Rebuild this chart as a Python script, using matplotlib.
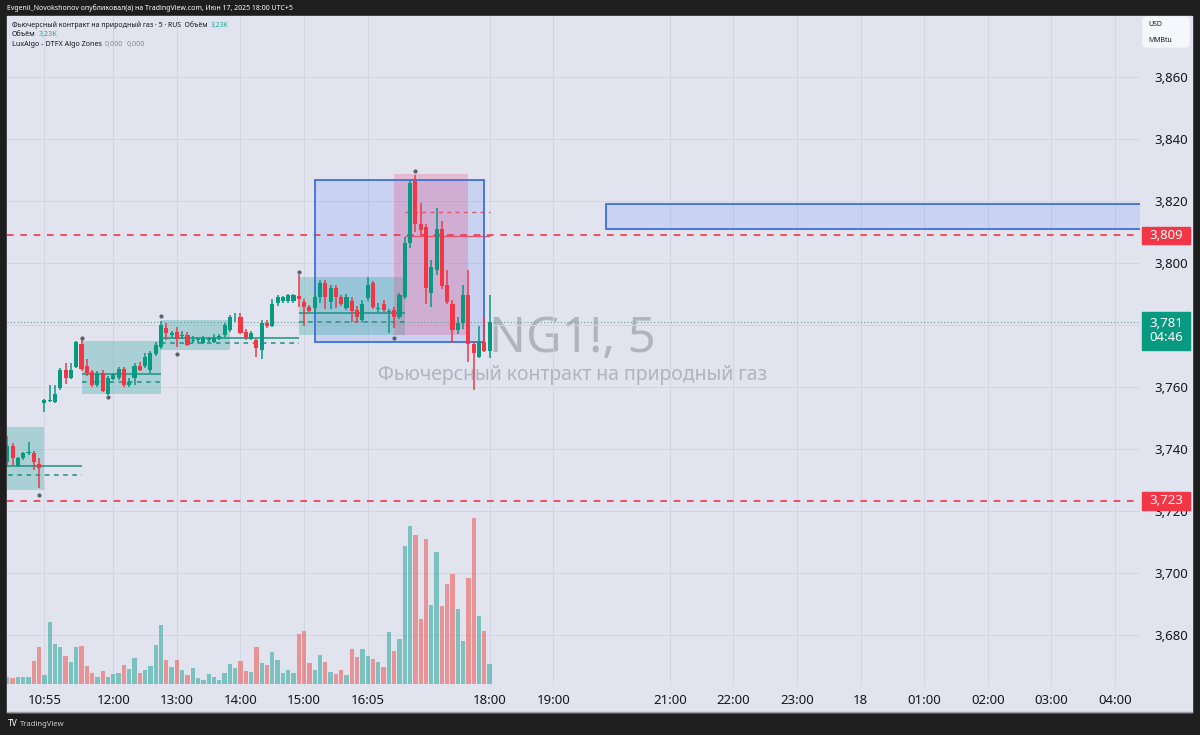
import matplotlib.pyplot as plt
from matplotlib.patches import Rectangle, FancyBboxPatch

plt.rcParams['font.family'] = ['Noto Sans', 'DejaVu Sans']

# 5-minute candles NG1! (bar index 0 .. 91)
opens = [3.7357, 3.7409, 3.7344, 3.7369, 3.7386, 3.7387, 3.7350, 3.7548, 3.7555, 3.7552,
         3.7597, 3.7654, 3.7627, 3.7664, 3.7738, 3.7667, 3.7648, 3.7605, 3.7645, 3.7576,
         3.7626, 3.7627, 3.7657, 3.7605, 3.7627, 3.7668, 3.7668, 3.7654, 3.7705, 3.7727,
         3.7788, 3.7768, 3.7778, 3.7763, 3.7767, 3.7748, 3.7750, 3.7742, 3.7752, 3.7745,
         3.7758, 3.7767, 3.7783, 3.7820, 3.7826, 3.7778, 3.7755, 3.7751, 3.7718, 3.7806,
         3.7796, 3.7871, 3.7875, 3.7875, 3.7875, 3.7893, 3.7874, 3.7856, 3.7855, 3.7888,
         3.7935, 3.7874, 3.7917, 3.7888, 3.7853, 3.7877, 3.7848, 3.7815, 3.7885, 3.7935,
         3.7850, 3.7867, 3.7842, 3.7848, 3.7826, 3.7888, 3.8065, 3.8265, 3.8125, 3.8116,
         3.7903, 3.7976, 3.8108, 3.7928, 3.7867, 3.7783, 3.7805, 3.7896, 3.7738, 3.7695,
         3.7745, 3.7716]
highs = [3.7440, 3.7419, 3.7374, 3.7390, 3.7420, 3.7394, 3.7369, 3.7560, 3.7605, 3.7605,
         3.7660, 3.7677, 3.7677, 3.7748, 3.7756, 3.7690, 3.7653, 3.7650, 3.7654, 3.7635,
         3.7645, 3.7665, 3.7665, 3.7627, 3.7675, 3.7680, 3.7710, 3.7715, 3.7745, 3.7813,
         3.7806, 3.7780, 3.7794, 3.7780, 3.7775, 3.7765, 3.7760, 3.7765, 3.7760, 3.7770,
         3.7770, 3.7805, 3.7830, 3.7838, 3.7838, 3.7785, 3.7780, 3.7755, 3.7815, 3.7815,
         3.7882, 3.7895, 3.7893, 3.7898, 3.7900, 3.7960, 3.7884, 3.7862, 3.7900, 3.7945,
         3.7945, 3.7927, 3.7927, 3.7895, 3.7900, 3.7890, 3.7860, 3.7880, 3.7955, 3.7942,
         3.7870, 3.7880, 3.7850, 3.7857, 3.7901, 3.8083, 3.8268, 3.8282, 3.8192, 3.8126,
         3.8009, 3.8175, 3.8136, 3.7977, 3.7880, 3.7825, 3.7929, 3.7976, 3.7745, 3.7797,
         3.7822, 3.7896]
lows = [3.7340, 3.7348, 3.7342, 3.7364, 3.7380, 3.7331, 3.7272, 3.7519, 3.7552, 3.7547,
        3.7590, 3.7609, 3.7624, 3.7660, 3.7650, 3.7636, 3.7600, 3.7600, 3.7583, 3.7573,
        3.7622, 3.7620, 3.7598, 3.7600, 3.7605, 3.7650, 3.7660, 3.7645, 3.7700, 3.7720,
        3.7750, 3.7760, 3.7728, 3.7755, 3.7730, 3.7740, 3.7742, 3.7738, 3.7745, 3.7740,
        3.7752, 3.7760, 3.7778, 3.7810, 3.7770, 3.7750, 3.7750, 3.7697, 3.7690, 3.7790,
        3.7792, 3.7860, 3.7870, 3.7870, 3.7870, 3.7857, 3.7797, 3.7840, 3.7838, 3.7870,
        3.7850, 3.7850, 3.7855, 3.7860, 3.7848, 3.7810, 3.7805, 3.7808, 3.7875, 3.7850,
        3.7838, 3.7840, 3.7773, 3.7790, 3.7818, 3.7883, 3.8046, 3.8100, 3.8089, 3.7867,
        3.7858, 3.7960, 3.7915, 3.7868, 3.7742, 3.7770, 3.7787, 3.7681, 3.7589, 3.7693,
        3.7713, 3.7693]
closes = [3.7409, 3.7370, 3.7369, 3.7387, 3.7388, 3.7358, 3.7339, 3.7558, 3.7558, 3.7576,
          3.7654, 3.7627, 3.7654, 3.7745, 3.7656, 3.7643, 3.7605, 3.7641, 3.7587, 3.7627,
          3.7638, 3.7657, 3.7605, 3.7616, 3.7668, 3.7654, 3.7697, 3.7708, 3.7735, 3.7799,
          3.7774, 3.7772, 3.7754, 3.7766, 3.7735, 3.7752, 3.7754, 3.7756, 3.7755, 3.7757,
          3.7762, 3.7799, 3.7826, 3.7822, 3.7772, 3.7756, 3.7774, 3.7724, 3.7807, 3.7797,
          3.7867, 3.7889, 3.7889, 3.7895, 3.7897, 3.7882, 3.7856, 3.7845, 3.7888, 3.7935,
          3.7888, 3.7917, 3.7888, 3.7867, 3.7888, 3.7845, 3.7826, 3.7867, 3.7928, 3.7858,
          3.7855, 3.7847, 3.7845, 3.7826, 3.7896, 3.8065, 3.8256, 3.8125, 3.8105, 3.7917,
          3.7987, 3.8108, 3.7925, 3.7874, 3.7783, 3.7806, 3.7896, 3.7738, 3.7708, 3.7745,
          3.7716, 3.7810]
# volume, thousands of contracts
volumes = [1.20, 0.94, 1.09, 1.20, 1.20, 3.69, 5.88, 1.40, 9.78, 6.24,
           5.82, 4.42, 3.48, 5.88, 5.98, 2.86, 1.82, 1.09, 2.03, 1.09,
           1.66, 1.82, 2.96, 2.34, 4.06, 1.72, 2.29, 2.86, 6.08, 9.31,
           3.85, 2.70, 3.85, 2.18, 1.40, 2.60, 0.94, 0.73, 1.56, 1.09,
           0.68, 1.82, 3.22, 2.60, 3.59, 2.13, 1.92, 5.82, 3.33, 3.02,
           5.04, 3.85, 1.77, 2.18, 1.77, 7.90, 8.37, 3.28, 2.18, 4.58,
           3.48, 1.92, 1.61, 2.29, 1.46, 5.51, 4.26, 5.51, 4.37, 3.95,
           3.43, 2.70, 8.16, 5.25, 7.02, 21.6, 24.7, 23.3, 10.2, 22.6,
           12.4, 20.7, 12.2, 15.7, 17.2, 11.8, 6.71, 16.6, 26.0, 10.7,
           8.37, 3.23]

time_ticks = [7, 20, 32, 44, 56, 68, 91, 103, 125, 137, 149, 161, 173, 185, 197, 209]
time_labels = ["10:55", "12:00", "13:00", "14:00", "15:00", "16:05", "18:00", "19:00",
               "21:00", "22:00", "23:00", "18", "01:00", "02:00", "03:00", "04:00"]
price_ticks = [3.68, 3.70, 3.72, 3.74, 3.76, 3.78, 3.80, 3.82, 3.84, 3.86]

level_hi = 3.809
level_lo = 3.723
last_price = 3.781
countdown = "04:46"

# DTFX zones: start bar, end bar, top, bottom, solid level, dashed level, level end bar
teal_zones = [
    (-3, 7, 3.7469, 3.7267, 3.7344, 3.7315, 14),
    (14, 29, 3.7747, 3.7576, 3.7640, 3.7616, 29),
    (29, 42, 3.7815, 3.7718, 3.7756, 3.7742, 55),
    (55, 75, 3.7955, 3.7767, 3.7839, 3.7808, 75),
]
red_zone = (73, 87, 3.8286, 3.7767, 3.8086, 3.8163, 91)
swing_x = [6, 14, 19, 29, 32, 55, 73, 77]
swing_y = [3.7252, 3.7758, 3.7567, 3.7828, 3.7705, 3.7970, 3.7756, 3.8297]

# user boxes
range_box = (58, 90, 3.8267, 3.7745)
target_box = (113, 214, 3.8189, 3.8109)

UP, DN = "#089981", "#f23645"
VUP, VDN = "#26a69a", "#ef5350"
BG = "#e1e3ef"
DARK = "#1e1e1e"
TXT = "#131722"


def fx(x):
    return x / 1200


def fy(y):
    return 1 - y / 735


def fmt(p):
    return f"{p:.3f}".replace(".", ",")


fig = plt.figure(figsize=(12, 7.35), dpi=100, facecolor=DARK)
fig.patches.append(Rectangle((fx(7), fy(712)), fx(1185), 696 / 735,
                             transform=fig.transFigure, color=BG, zorder=-5))
fig.add_artist(plt.Line2D([fx(7), fx(1192)], [fy(712), fy(712)], color="#9a9ca6", lw=1))

ax = fig.add_axes([fx(7), fy(686), fx(1133), 670 / 735])
ax.set_facecolor(BG)
ax.set_xlim(-0.057, 213.72)
ax.set_ylim(3.66345, 3.87958)

# boxes
for x0, x1, top, bot in (range_box, target_box):
    ax.add_patch(Rectangle((x0, bot), x1 - x0, top - bot, facecolor="#2962ff", alpha=0.13,
                           edgecolor="none", zorder=1))
    ax.add_patch(Rectangle((x0, bot), x1 - x0, top - bot, facecolor="none",
                           edgecolor="#3d6ee0", lw=1.3, zorder=4))

for x0, x1, top, bot, solid, dash, xe in teal_zones:
    ax.add_patch(Rectangle((x0, bot), x1 - x0, top - bot, facecolor=VUP, alpha=0.3,
                           edgecolor="none", zorder=2))
    ax.hlines(solid, x0, xe, color="#1f8f84", lw=1.1, zorder=3)
    ax.hlines(dash, x0, xe, color="#1f8f84", lw=1.1, linestyles=(0, (3, 3)), zorder=3)

x0, x1, top, bot, solid, dash, xe = red_zone
ax.add_patch(Rectangle((x0, bot), x1 - x0, top - bot, facecolor="#e8457a", alpha=0.25,
                       edgecolor="none", zorder=2))
ax.hlines(solid, x0 + 2, xe, color="#e0566a", lw=1.0, zorder=3)
ax.hlines(dash, x0 + 2, xe, color="#e0566a", lw=1.0, linestyles=(0, (3, 3)), zorder=3)

# key levels
for lvl in (level_hi, level_lo):
    ax.axhline(lvl, color=DN, lw=1.2, ls=(0, (4, 4)), zorder=3)
ax.axhline(last_price, color="#5f9e9a", lw=0.8, ls=(0, (1, 2)), zorder=3)

# watermark
ax.text(106.7, 3.7754, "NG1!, 5", fontsize=35, ha="center", va="center",
        color="#b0b3c0", zorder=0.5)
ax.text(106.7, 3.7638, "Фьючерсный контракт на природный газ", fontsize=14,
        ha="center", va="center", color="#b0b3c0", zorder=0.5)

# candles
idx = list(range(len(opens)))
cols = [UP if c >= o else DN for o, c in zip(opens, closes)]
ax.vlines(idx, lows, highs, colors=cols, lw=1.1, zorder=5)
body_lo = [min(o, c) for o, c in zip(opens, closes)]
body_h = [max(abs(c - o), 0.0003) for o, c in zip(opens, closes)]
ax.bar(idx, body_h, bottom=body_lo, width=0.78, color=cols, zorder=6)
ax.scatter(swing_x, swing_y, s=4, color="#5d606b", zorder=7)

# axes styling
ax.grid(color="#d2d5e2", lw=0.7)
ax.set_axisbelow(True)
for s in ax.spines.values():
    s.set_visible(False)

vax = ax.twinx()
vax.set_ylim(-0.265, 104.3)
vcols = [VUP if c >= o else VDN for o, c in zip(opens, closes)]
vax.bar(idx, volumes, width=0.8, color=vcols, alpha=0.55, zorder=2)
vax.set_yticks([])
for s in vax.spines.values():
    s.set_visible(False)

ax.yaxis.tick_right()
ax.set_yticks(price_ticks)
ax.set_yticklabels(["" if abs(p - last_price) < 0.005 else fmt(p) for p in price_ticks])
ax.tick_params(axis="y", length=0, pad=10, labelsize=9.5, labelcolor=TXT)
ax.set_xticks(time_ticks)
ax.set_xticklabels(time_labels)
ax.tick_params(axis="x", length=0, pad=6, labelsize=9.5, labelcolor=TXT)
for lab in ax.get_xticklabels():
    if lab.get_text() == "18":
        lab.set_fontweight("bold")


# price axis tags
def tag(y0, y1, color, lines):
    fig.patches.append(Rectangle((fx(1142), fy(y1)), fx(48), (y1 - y0) / 735,
                                 transform=fig.transFigure, color=color, zorder=5))
    fig.text(fx(1166), fy((y0 + y1) / 2), lines, ha="center", va="center",
             color="white", fontsize=9.5, linespacing=1.1, zorder=6)


tag(227, 244, DN, fmt(level_hi))
tag(312, 350, UP, fmt(last_price) + "\n" + countdown)
tag(492, 510, DN, fmt(level_lo))

# header and legend
renderer = fig.canvas.get_renderer()


def inline(x, y, parts, size=5.2):
    for txt, col in parts:
        t = fig.text(fx(x), fy(y), txt, color=col, fontsize=size, va="center")
        x = t.get_window_extent(renderer).x1 + 3


fig.text(fx(7), fy(8), "Evgenii_Novokshonov опубликовал(а) на TradingView.com, Июн 17, 2025 18:00 UTC+5",
         color="white", fontsize=5.0, va="center")
inline(12, 25, [("Фьючерсный контракт на природный газ · 5 · RUS  Объём", TXT), ("3,23K", VUP)], 5.0)
inline(12, 34.7, [("Объём", TXT), ("3,23K", VUP)])
inline(12, 44.3, [("LuxAlgo - DTFX Algo Zones", TXT), ("0,000", "#8a8d99"), ("0,000", "#8a8d99")])

fig.patches.append(FancyBboxPatch((fx(1143), fy(47)), fx(46), 30 / 735,
                                  boxstyle="round,pad=0,rounding_size=0.003",
                                  transform=fig.transFigure, color="#f6f7fb", zorder=5))
fig.text(fx(1148), fy(25), "USD", color=TXT, fontsize=5, va="center", zorder=6)
fig.text(fx(1148), fy(41), "MMBtu", color=TXT, fontsize=5, va="center", zorder=6)

fig.text(fx(8), fy(724), "TV", color="white", fontsize=6, weight="bold", va="center")
fig.text(fx(20), fy(724), "TradingView", color="#d0d0d0", fontsize=5.5, va="center")

fig.savefig("out.png", dpi=100, facecolor=DARK)
